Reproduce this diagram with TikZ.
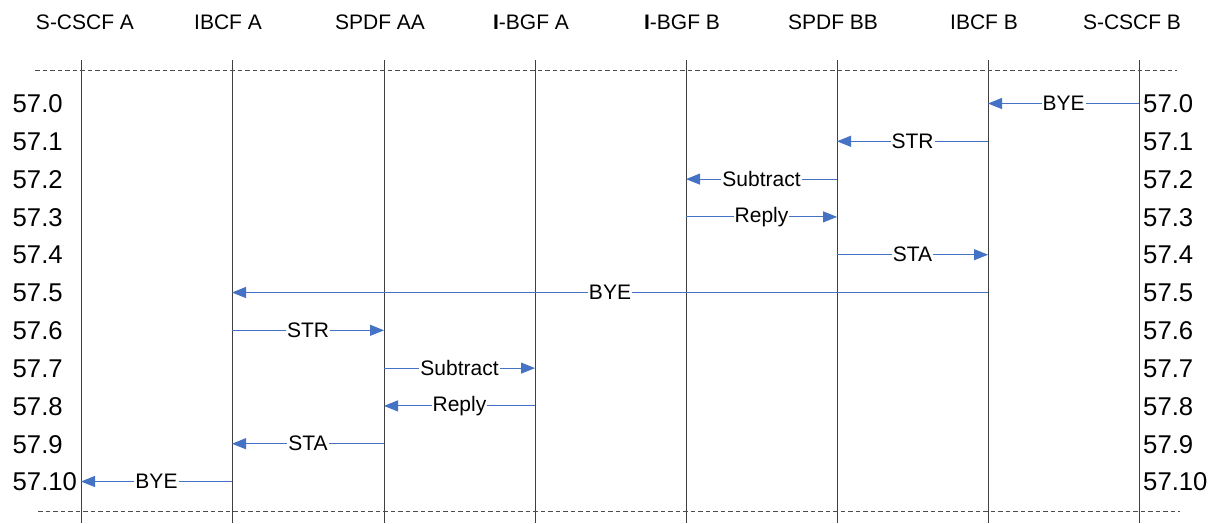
\documentclass[tikz,border=0pt]{standalone}
\usepackage{fontspec}
\setmainfont{Liberation Sans}
\usetikzlibrary{arrows.meta}
\definecolor{msgblue}{RGB}{68,114,196}
\begin{document}
\begin{tikzpicture}[x=1pt,y=-1pt,
  hdr/.style={font=\fontsize{21}{21}\selectfont, inner sep=0pt, anchor=base},
  num/.style={font=\fontsize{25.7}{26}\selectfont, inner sep=0pt},
  life/.style={draw=black!75, line width=0.9pt},
  sep/.style={draw=black!70, line width=0.8pt, dash pattern=on 4.5pt off 3pt},
  msg/.style={draw=msgblue, line width=0.9pt, -{Triangle[length=14pt,width=11pt]}},
  lab/.style={fill=white, inner sep=1pt, font=\fontsize{21}{21}\selectfont, text=black}]
\useasboundingbox (0,0) rectangle (1212,523);
% headers
\node[hdr] (h1) at (85,29) {S-CSCF A};
\node[hdr] (h2) at (228,29) {IBCF A};
\node[hdr] (h3) at (380,29) {SPDF AA};
\node[hdr] (h4) at (531,29) {\textbf{I}-BGF A};
\node[hdr] (h5) at (682,29) {\textbf{I}-BGF B};
\node[hdr] (h6) at (833,29) {SPDF BB};
\node[hdr] (h7) at (984,29) {IBCF B};
\node[hdr] (h8) at (1132,29) {S-CSCF B};
% lifelines
\foreach \i/\x in {1/81,2/232,3/384,4/535,5/686,6/837,7/988,8/1139}{
  \coordinate (t\i) at (\x,60);
  \coordinate (b\i) at (\x,523);
  \draw[life] (t\i) -- (b\i);
  \foreach \r in {0,...,10}{
    \coordinate (p\i r\r) at (\x,{103.5+37.8*\r});
  }
}
% separators
\coordinate (s1a) at (35,70); \coordinate (s1b) at (1177,70);
\coordinate (s2a) at (38,511); \coordinate (s2b) at (1180,511);
\draw[sep] (s1a) -- (s1b);
\draw[sep] (s2a) -- (s2b);
% numbers
\foreach \r/\t in {0/57.0,1/57.1,2/57.2,3/57.3,4/57.4,5/57.5,6/57.6,7/57.7,8/57.8,9/57.9,10/57.10}{
  \node[num, anchor=west] (nl\r) at (12.5,{104+37.8*\r}) {\t};
  \node[num, anchor=west] (nr\r) at (1143,{104+37.8*\r}) {\t};
}
% messages
\draw[msg] (p8r0) -- node[lab]{BYE} (p7r0);
\draw[msg] (p7r1) -- node[lab]{STR} (p6r1);
\draw[msg] (p6r2) -- node[lab]{Subtract} (p5r2);
\draw[msg] (p5r3) -- node[lab]{Reply} (p6r3);
\draw[msg] (p6r4) -- node[lab]{STA} (p7r4);
\draw[msg] (p7r5) -- node[lab]{BYE} (p2r5);
\draw[msg] (p2r6) -- node[lab]{STR} (p3r6);
\draw[msg] (p3r7) -- node[lab]{Subtract} (p4r7);
\draw[msg] (p4r8) -- node[lab]{Reply} (p3r8);
\draw[msg] (p3r9) -- node[lab]{STA} (p2r9);
\draw[msg] (p2r10) -- node[lab]{BYE} (p1r10);
\end{tikzpicture}
\end{document}
